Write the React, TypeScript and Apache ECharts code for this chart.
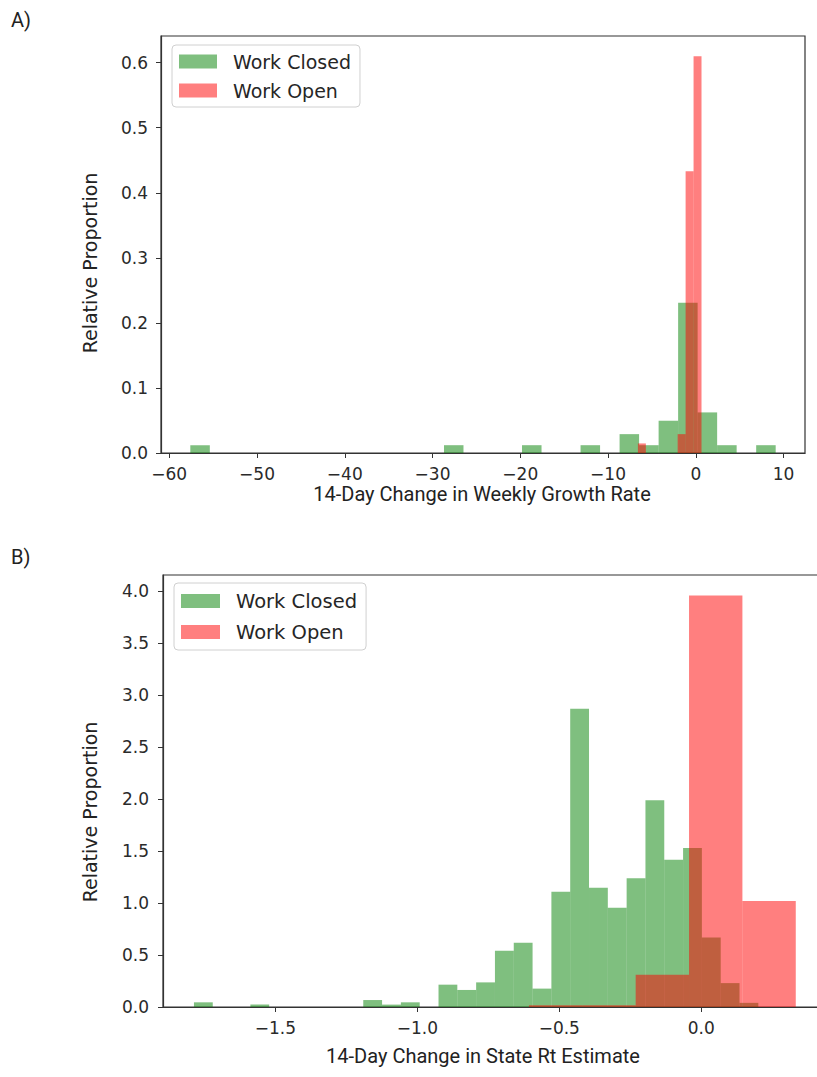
import React, { useEffect, useRef } from "react";
import * as echarts from "echarts";

const seriesNames = ["Work Closed", "Work Open"];

// Panel A — 14-day change in weekly growth rate (density histograms)
const closedStartA = -57.6;
const closedWidthA = 2.2233;
const closedValuesA = [
  0.012, 0, 0, 0, 0, 0, 0, 0, 0, 0, 0, 0, 0, 0.012, 0, 0, 0, 0.012, 0, 0,
  0.012, 0, 0.029, 0.012, 0.0496, 0.231, 0.0624, 0.012, 0, 0.012,
];
const openStartA = -6.6;
const openWidthA = 0.906;
const openValuesA = [0.0147, 0, 0, 0, 0, 0.029, 0.433, 0.61];

// Panel B — 14-day change in state Rt estimate
const closedStartB = -1.787;
const closedWidthB = 0.06627;
const closedValuesB = [
  0.045, 0, 0, 0.023, 0, 0, 0, 0, 0, 0.067, 0.023, 0.045, 0, 0.215, 0.164,
  0.237, 0.542, 0.619, 0.177, 1.11, 2.87, 1.147, 0.955, 1.24, 1.99, 1.417,
  1.53, 0.67, 0.23, 0.04,
];
const openStartB = -0.607;
const openWidthB = 0.188;
const openValuesB = [0.016, 0.016, 0.31, 3.96, 1.02];

// Tick labels
const xTicksA = [-60, -50, -40, -30, -20, -10, 0, 10];
const yTicksA = [0, 0.1, 0.2, 0.3, 0.4, 0.5, 0.6];
const xTicksB = [-1.5, -1.0, -0.5, 0.0];
const yTicksB = [0, 0.5, 1.0, 1.5, 2.0, 2.5, 3.0, 3.5, 4.0];

const xRangeA = [-60.94, 12.44];
const yRangeA = [0, 0.641];
const xRangeB = [-1.896, 0.443];
const yRangeB = [0, 4.158];

const GREEN = "rgba(0,128,0,0.5)";
const RED = "rgba(255,0,0,0.5)";
const TICK_FONT = "DejaVu Sans";

function binsToData(start: number, width: number, values: number[]) {
  const out: number[][] = [];
  values.forEach((v, i) => {
    if (v > 0) out.push([start + i * width, start + (i + 1) * width, v]);
  });
  return out;
}

function minusFmt(decimals: number | null) {
  return (v: number) => {
    const s = decimals === null ? String(Math.abs(v)) : Math.abs(v).toFixed(decimals);
    return v < -1e-9 ? "\u2212" + s : s;
  };
}

function histSeries(name: string, color: string, data: number[][], axisIdx: number) {
  return {
    type: "custom",
    name,
    xAxisIndex: axisIdx,
    yAxisIndex: axisIdx,
    encode: { x: [0, 1], y: 2 },
    itemStyle: { color },
    data,
    renderItem: (params: any, api: any) => {
      const p0 = api.coord([api.value(0), api.value(2)]);
      const p1 = api.coord([api.value(1), 0]);
      return {
        type: "rect",
        shape: { x: p0[0], y: p0[1], width: p1[0] - p0[0], height: p1[1] - p0[1] },
        style: { fill: color },
      };
    },
  };
}

function xAxisCfg(range: number[], ticks: number[], gridIndex: number, decimals: number | null) {
  return {
    type: "value",
    gridIndex,
    min: range[0],
    max: range[1],
    splitLine: { show: false },
    axisLine: { show: true, onZero: false, lineStyle: { color: "#333", width: 1.2 } },
    axisTick: { show: true, length: 5, customValues: ticks, lineStyle: { color: "#333" } },
    axisLabel: {
      customValues: ticks,
      formatter: minusFmt(decimals),
      margin: 12,
      fontSize: 17,
      fontFamily: TICK_FONT,
      color: "#2a2a2a",
    },
  };
}

function yAxisCfg(range: number[], ticks: number[], gridIndex: number, margin: number) {
  return {
    type: "value",
    gridIndex,
    min: range[0],
    max: range[1],
    splitLine: { show: false },
    axisLine: { show: true, onZero: false, lineStyle: { color: "#333", width: 1.2 } },
    axisTick: { show: true, length: 5, customValues: ticks, lineStyle: { color: "#333" } },
    axisLabel: {
      customValues: ticks,
      formatter: (v: number) => v.toFixed(1),
      margin,
      fontSize: 17,
      fontFamily: TICK_FONT,
      color: "#2a2a2a",
    },
  };
}

export default function App() {
  const ref = useRef<HTMLDivElement>(null);
  useEffect(() => {
    if (!ref.current) return;
    const chart = echarts.init(ref.current, null, { renderer: "svg" });
    const legendText = {
      fontSize: 19,
      fontFamily: TICK_FONT,
      color: "#262626",
      padding: [0, 0, 0, 11],
    };
    chart.setOption({
      animation: false,
      backgroundColor: "#fff",
      grid: [
        { left: 161, top: 36, width: 644, height: 417, show: true, borderColor: "#333", borderWidth: 1.2 },
        { left: 163, top: 575, width: 664, height: 432, show: true, borderColor: "#333", borderWidth: 1.2 },
      ],
      xAxis: [
        xAxisCfg(xRangeA, xTicksA, 0, null),
        xAxisCfg(xRangeB, xTicksB, 1, 1),
      ],
      yAxis: [yAxisCfg(yRangeA, yTicksA, 0, 13), yAxisCfg(yRangeB, yTicksB, 1, 14)],
      legend: [
        {
          data: seriesNames,
          orient: "vertical",
          left: 172,
          top: 45,
          icon: "rect",
          itemWidth: 38,
          itemHeight: 14,
          itemGap: 10,
          padding: [7, 9, 7, 7],
          borderColor: "#d0d0d0",
          borderWidth: 1,
          borderRadius: 4,
          backgroundColor: "rgba(255,255,255,0.8)",
          textStyle: legendText,
          selectedMode: false,
        },
        {
          data: seriesNames,
          orient: "vertical",
          left: 174,
          top: 583,
          icon: "rect",
          itemWidth: 39,
          itemHeight: 14,
          itemGap: 11,
          padding: [8, 9, 8, 7],
          borderColor: "#d0d0d0",
          borderWidth: 1,
          borderRadius: 4,
          backgroundColor: "rgba(255,255,255,0.8)",
          textStyle: { ...legendText, fontSize: 19.5 },
          selectedMode: false,
        },
      ],
      graphic: [
        { type: "text", left: 11, top: 10, style: { text: "A)", font: "20px Roboto", fill: "#222" } },
        { type: "text", left: 11, top: 547, style: { text: "B)", font: "20px Roboto", fill: "#222" } },
        {
          type: "text", x: 90, y: 263, rotation: Math.PI / 2,
          style: { text: "Relative Proportion", font: "19px 'DejaVu Sans'", fill: "#222", align: "center", verticalAlign: "middle" },
        },
        {
          type: "text", x: 90, y: 812, rotation: Math.PI / 2,
          style: { text: "Relative Proportion", font: "19px 'DejaVu Sans'", fill: "#222", align: "center", verticalAlign: "middle" },
        },
        {
          type: "text", x: 482, y: 494,
          style: { text: "14-Day Change in Weekly Growth Rate", font: "20px Roboto", fill: "#222", align: "center", verticalAlign: "middle" },
        },
        {
          type: "text", x: 483, y: 1056,
          style: { text: "14-Day Change in State Rt Estimate", font: "20px Roboto", fill: "#222", align: "center", verticalAlign: "middle" },
        },
      ],
      series: [
        histSeries(seriesNames[0], GREEN, binsToData(closedStartA, closedWidthA, closedValuesA), 0),
        histSeries(seriesNames[1], RED, binsToData(openStartA, openWidthA, openValuesA), 0),
        histSeries(seriesNames[0], GREEN, binsToData(closedStartB, closedWidthB, closedValuesB), 1),
        histSeries(seriesNames[1], RED, binsToData(openStartB, openWidthB, openValuesB), 1),
      ],
    });
    return () => chart.dispose();
  }, []);
  return (
    <div style={{ position: "absolute", left: 0, top: 0, width: 817, height: 1077, overflow: "hidden" }}>
      <div ref={ref} style={{ width: 840, height: 1077 }} />
    </div>
  );
}
